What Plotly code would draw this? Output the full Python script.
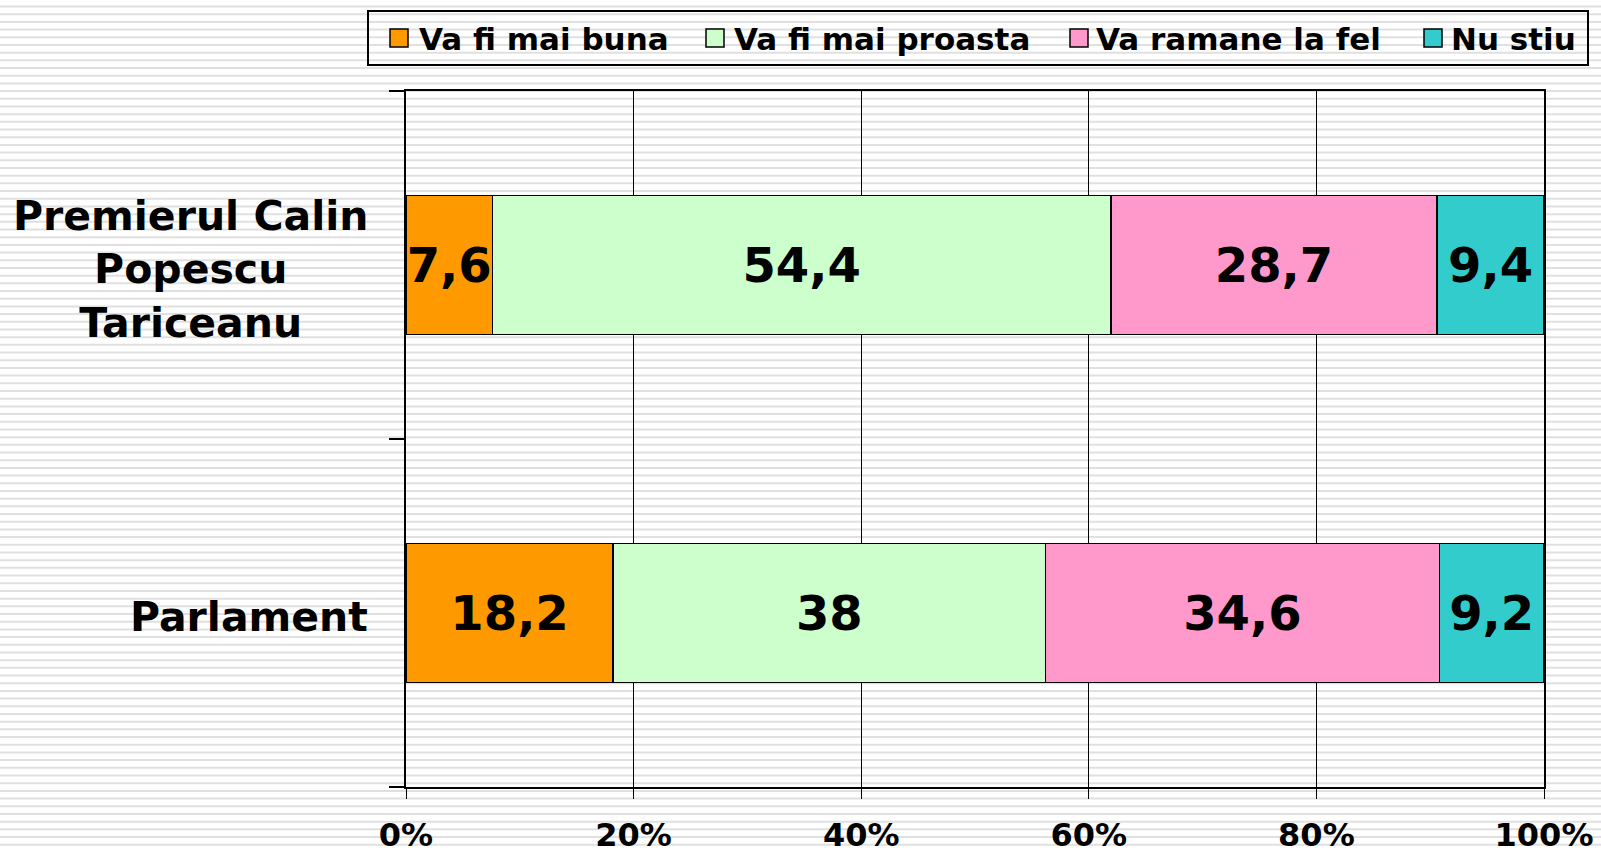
import plotly.graph_objects as go

categories = ["Premierul Calin<br>Popescu<br>Tariceanu", "Parlament"]
series_names = ["Va fi mai buna", "Va fi mai proasta", "Va ramane la fel", "Nu stiu"]
va_fi_mai_buna = [7.6, 18.2]
va_fi_mai_proasta = [54.4, 38]
va_ramane_la_fel = [28.7, 34.6]
nu_stiu = [9.4, 9.2]
x_ticks = [0, 20, 40, 60, 80, 100]
x_tick_labels = ["0%", "20%", "40%", "60%", "80%", "100%"]

series_values = [va_fi_mai_buna, va_fi_mai_proasta, va_ramane_la_fel, nu_stiu]
colors = ["#FF9900", "#CCFFCC", "#FF99CC", "#33CCCC"]

FONT = "DejaVu Sans"
W, H = 1601, 850
ML, MR, MT, MB = 406, 57, 91, 63
PW, PH = W - ML - MR, H - MT - MB


def px_x(x):
    return (x - ML) / PW


def px_y(y):
    return (H - MB - y) / PH


def fmt(v):
    return ("%g" % v).replace(".", ",")


fig = go.Figure()
for name, vals, col in zip(series_names, series_values, colors):
    fig.add_trace(go.Bar(
        y=categories, x=vals, name=name, orientation="h",
        marker=dict(color=col, line=dict(color="black", width=1.5)),
        text=[fmt(v) for v in vals], textposition="inside", textangle=0,
        insidetextanchor="middle", constraintext="none",
        textfont=dict(family=FONT, size=48, color="black", weight="bold"),
        hoverinfo="skip", showlegend=False,
    ))

shapes = []
# background stripes (styling)
y = 6.5
while y < H:
    shapes.append(dict(type="line", xref="paper", yref="paper",
                       x0=px_x(0), x1=px_x(W), y0=px_y(y), y1=px_y(y),
                       line=dict(color="#e0e0e0", width=2), layer="below"))
    y += 7.69

annotations = []
# y category labels, centred lines
for c in categories:
    annotations.append(dict(xref="paper", yref="y", x=px_x(370), y=c,
                            text="<b>" + c + "</b>", showarrow=False,
                            xanchor="right", yanchor="middle", align="center",
                            yshift=-4,
                            font=dict(family=FONT, size=41, color="black")))

# manual legend (box, swatches, labels)
shapes.append(dict(type="rect", xref="paper", yref="paper",
                   x0=px_x(368), x1=px_x(1588), y0=px_y(11), y1=px_y(65),
                   line=dict(color="black", width=2), fillcolor="rgba(0,0,0,0)"))
swatch_left = [390, 706, 1070, 1424]
text_left = [417, 732, 1094, 1449]
for name, col, sx, tx in zip(series_names, colors, swatch_left, text_left):
    shapes.append(dict(type="rect", xref="paper", yref="paper",
                       x0=px_x(sx), x1=px_x(sx + 18), y0=px_y(29), y1=px_y(47),
                       line=dict(color="black", width=1.5), fillcolor=col))
    annotations.append(dict(xref="paper", yref="paper", x=px_x(tx), y=px_y(39),
                            text="<b>" + name + "</b>", showarrow=False,
                            xanchor="left", yanchor="middle",
                            font=dict(family=FONT, size=31, color="black")))

fig.update_layout(
    width=W, height=H,
    margin=dict(l=ML, r=MR, t=MT, b=MB, autoexpand=False),
    paper_bgcolor="white", plot_bgcolor="rgba(0,0,0,0)",
    barmode="stack", barnorm="percent", bargap=0.6,
    shapes=shapes, annotations=annotations,
    showlegend=False,
    xaxis=dict(range=[0, 100], tickmode="array", tickvals=x_ticks,
               ticktext=x_tick_labels,
               showgrid=True, gridcolor="black", gridwidth=1,
               showline=True, linecolor="black", linewidth=2, mirror=True,
               ticks="outside", ticklen=10, tickwidth=1, tickcolor="black",
               tickfont=dict(family=FONT, size=32, color="black", weight="bold"),
               ticklabelstandoff=9, zeroline=False, fixedrange=True),
    yaxis=dict(categoryorder="array", categoryarray=categories[::-1],
               showticklabels=False, showgrid=False,
               showline=True, linecolor="black", linewidth=2, mirror=True,
               ticks="outside", ticklen=15, tickwidth=2, tickcolor="black",
               tickson="boundaries", fixedrange=True),
)

fig.write_html("out.html", config={"displayModeBar": False},
               post_script="document.body.style.margin='0';document.body.style.overflow='hidden';")
